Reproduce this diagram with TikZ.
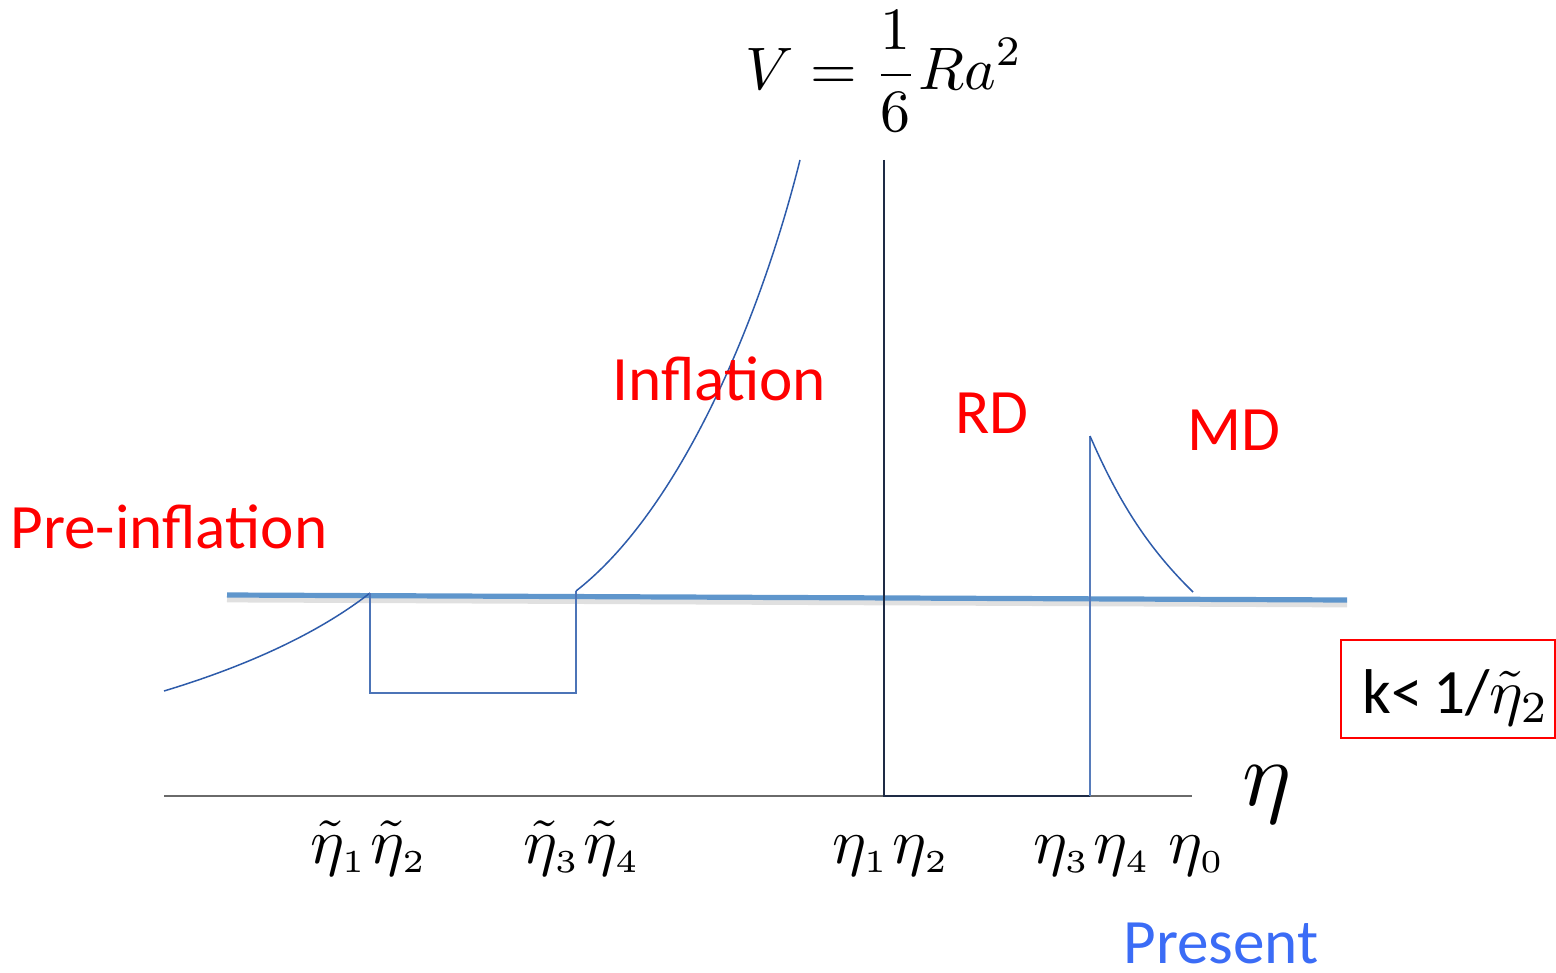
\documentclass[tikz,border=0pt]{standalone}
\usepackage{amsmath}
\usepackage{graphicx}
\usepackage{fontspec}
\setmainfont{Carlito}
\definecolor{curveblue}{HTML}{2D5BAA}
\definecolor{thickblue}{HTML}{5F96CC}
\definecolor{axisgray}{HTML}{6A6A6A}
\definecolor{darknavy}{HTML}{1E2B45}
\definecolor{presentblue}{HTML}{3B6CF6}
\definecolor{labelred}{HTML}{FF0000}
\newcommand{\bigmath}[2]{{\normalsize\scalebox{#1}{$#2$}}}
\tikzset{
  curve/.style={draw=curveblue, line width=0.75pt},
  phase/.style={text=labelred, inner sep=0pt, font=\fontsize{31.6}{37}\selectfont},
  etalabel/.style={inner sep=0pt},
}
\begin{document}
\begin{tikzpicture}[x=0.5pt,y=-0.5pt]
\useasboundingbox (0,0) rectangle (1556,973);

% formula
\node[anchor=base west, inner sep=0pt] (formula) at (745,90) {\bigmath{3.0}{\displaystyle V=\frac{1}{6}Ra^2}};

% axis
\coordinate (axL) at (164,796);
\coordinate (axR) at (1192,796);
\draw[axisgray, line width=0.6pt] (axL) -- (axR);

% thick blue line with soft shadow
\coordinate (thL) at (227,595);
\coordinate (thR) at (1347,600);
\draw[black!12, line width=3pt] ([yshift=-2.2pt]thL) -- ([yshift=-2.2pt]thR);
\draw[thickblue, line width=2.6pt] (thL) -- (thR);

% RD vertical and bottom
\coordinate (rdTop) at (884,160);
\coordinate (rdBL) at (884,796);
\coordinate (rdBR) at (1090,796);
\draw[darknavy, line width=0.75pt] (rdTop) -- (rdBL) -- (rdBR);

% MD
\coordinate (mdTop) at (1090,436);
\coordinate (mdEnd) at (1193,592);
\draw[curve, draw=curveblue!80!white] (rdBR) -- (mdTop);
\draw[curve] (mdTop) .. controls (1120,505) and (1150,550) .. (mdEnd);

% pre-inflation curve and rectangle
\coordinate (preL) at (164,691);
\coordinate (t2) at (370,593);
\coordinate (t2b) at (370,693);
\coordinate (t4b) at (576,693);
\coordinate (t4) at (576,591);
\coordinate (infTop) at (800,160);
\draw[curve] (preL) .. controls (250,665) and (320,632) .. (t2);
\draw[curve, draw=curveblue!85!white] (t2) -- (t2b) -- (t4b) -- (t4);
\draw[curve] (t4) .. controls (680,510) and (760,320) .. (infTop);

% phase labels
\node[phase, anchor=base west] (pre) at (10,548) {Pre-inflation};
\node[phase, anchor=base west] (infl) at (612,400) {Inflation};
\node[phase, anchor=base west] (rd) at (955,433) {RD};
\node[phase, anchor=base west] (md) at (1187,450) {MD};
\node[phase, anchor=base west, text=presentblue] (present) at (1123,963) {Present};

% condition box
\draw[labelred, line width=0.6pt] (1341,640) rectangle (1555,738);
\node[inner sep=0pt, anchor=base west, font=\fontsize{31.6}{37}\selectfont] (cond) at (1362,713) {k<\,1/\bigmath{3.16}{\tilde{\eta}_2}};

% eta labels
\node[etalabel, anchor=base west] (lt12) at (310,863) {\bigmath{3.2}{\tilde\eta_{\scriptscriptstyle 1}\mkern1mu\tilde\eta_{\scriptscriptstyle 2}}};
\node[etalabel, anchor=base west] (lt34) at (523,863) {\bigmath{3.2}{\tilde\eta_{\scriptscriptstyle 3}\mkern1mu\tilde\eta_{\scriptscriptstyle 4}}};
\node[etalabel, anchor=base west] (l12) at (832,863) {\bigmath{3.2}{\eta_{\scriptscriptstyle 1}\mkern1mu\eta_{\scriptscriptstyle 2}}};
\node[etalabel, anchor=base west] (l34) at (1033,863) {\bigmath{3.2}{\eta_{\scriptscriptstyle 3}\mkern1mu\eta_{\scriptscriptstyle 4}}};
\node[etalabel, anchor=base west] (l0) at (1168,863) {\bigmath{3.2}{\eta_{\scriptscriptstyle 0}}};
\node[inner sep=0pt, anchor=base west] (etaax) at (1242,805) {\bigmath{4.6}{\eta}};
\end{tikzpicture}
\end{document}
